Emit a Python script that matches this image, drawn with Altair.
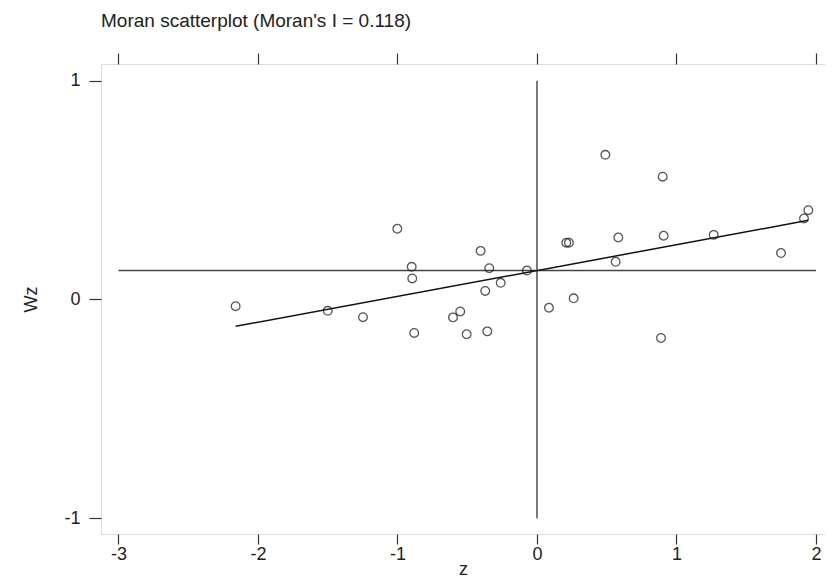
import altair as alt
import pandas as pd

# Data (standardised z and spatially lagged Wz)
z = [-2.160, -1.500, -1.247, -1.001, -0.898, -0.894, -0.880, -0.602, -0.550, -0.504,
     -0.404, -0.342, -0.371, -0.356, -0.260, -0.072, 0.086, 0.263, 0.210, 0.229,
     0.490, 0.583, 0.564, 0.901, 0.908, 0.889, 1.267, 1.749, 1.914, 1.945]
wz = [-0.031, -0.052, -0.081, 0.323, 0.149, 0.096, -0.153, -0.082, -0.055, -0.159,
      0.222, 0.143, 0.039, -0.146, 0.076, 0.132, -0.038, 0.005, 0.259, 0.259,
      0.661, 0.283, 0.172, 0.561, 0.291, -0.176, 0.295, 0.212, 0.370, 0.408]
moran_i = 0.118
wz_mean = 0.132
x_ticks = [-3, -2, -1, 0, 1, 2]
y_ticks = [-1, 0, 1]
x_domain = [-3.125, 2.0645]
y_domain = [-1.072, 1.076]
vline_span = [-1, 1]
hline_span = [-3, 2]

FONT = "Liberation Sans"
INK = "#333333"
TXT = "#222222"

pts = pd.DataFrame({"z": z, "wz": wz})
vline = pd.DataFrame({"x": [0], "y1": [vline_span[0]], "y2": [vline_span[1]]})
hline = pd.DataFrame({"x1": [hline_span[0]], "x2": [hline_span[1]], "y": [wz_mean]})
zmin, zmax = min(z), max(z)
fit = pd.DataFrame({"z": [zmin, zmax],
                    "wz": [wz_mean + moran_i * zmin, wz_mean + moran_i * zmax]})

xs = alt.Scale(domain=x_domain, nice=False, zero=False)
ys = alt.Scale(domain=y_domain, nice=False, zero=False)

label_expr = "'' + datum.value"

bottom_axis = alt.Axis(orient="bottom", values=x_ticks, domain=False, grid=False,
                       tickSize=10, tickColor=INK, tickWidth=1.2,
                       labelFont=FONT, labelFontSize=18, labelColor=TXT,
                       labelPadding=1, labelFlush=False, labelExpr=label_expr,
                       title="z", titleFont=FONT, titleFontSize=18,
                       titleFontWeight="normal", titleColor=TXT,
                       titleBaseline="alphabetic", titleY=40)
top_axis = alt.Axis(orient="top", values=x_ticks, domain=False, grid=False,
                    tickSize=11, tickColor=INK, tickWidth=1.2, labels=False,
                    title=None)
left_axis = alt.Axis(orient="left", values=y_ticks, domain=False, grid=False,
                     tickSize=12, tickColor=INK, tickWidth=1.2,
                     labelFont=FONT, labelFontSize=18, labelColor=TXT,
                     labelPadding=9, labelFlush=False, labelExpr=label_expr,
                     title="Wz", titleFont=FONT, titleFontSize=18,
                     titleFontWeight="normal", titleColor=TXT,
                     titleAngle=-90, titleAlign="center", titleBaseline="middle",
                     titleX=-70, titleY=235)

points = alt.Chart(pts).mark_point(shape="circle", filled=False, size=75,
                                   stroke="#111111", strokeWidth=1.3).encode(
    x=alt.X("z:Q", scale=xs, axis=bottom_axis),
    y=alt.Y("wz:Q", scale=ys, axis=left_axis),
)

v_rule = alt.Chart(vline).mark_rule(color="#444444", strokeWidth=1.4).encode(
    x=alt.X("x:Q", scale=xs, axis=None),
    y=alt.Y("y1:Q", scale=ys, axis=None),
    y2="y2:Q",
)

h_rule = alt.Chart(hline).mark_rule(color="#444444", strokeWidth=1.4).encode(
    x=alt.X("x1:Q", scale=xs, axis=top_axis),
    x2="x2:Q",
    y=alt.Y("y:Q", scale=ys, axis=None),
)

fit_line = alt.Chart(fit).mark_line(color="#111111", strokeWidth=1.5).encode(
    x=alt.X("z:Q", scale=xs, axis=None),
    y=alt.Y("wz:Q", scale=ys, axis=None),
)

chart = alt.layer(h_rule, v_rule, fit_line, points).resolve_axis(
    x="independent", y="independent"
).properties(
    width=724, height=470,
    autosize=alt.AutoSizeParams(type="none"),
    padding={"left": 93, "top": 56, "right": 0, "bottom": 43},
    title=alt.TitleParams("Moran scatterplot (Moran's I = 0.118)", anchor="start",
                          frame="group", font=FONT, fontSize=19,
                          fontWeight="normal", color=TXT, offset=21),
).configure_view(stroke=INK, strokeWidth=1.3).configure(background="white")

chart.save("out.html", embed_options={"renderer": "svg", "actions": False})
